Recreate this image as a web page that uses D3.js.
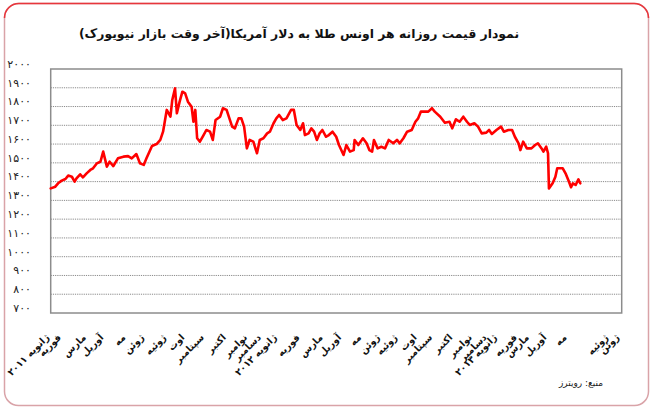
<!DOCTYPE html>
<html><head><meta charset="utf-8">
<script src="https://cdn.jsdelivr.net/npm/d3@7/dist/d3.min.js"></script>
<style>body{margin:0;background:#fff}svg{display:block}</style>
</head><body><svg id="c" width="650" height="408"></svg>
<script>
const title = "نمودار قیمت روزانه هر اونس طلا به دلار آمریکا(آخر وقت بازار نیویورک)";
const source = "منبع: رویترز";

// trading-day index and gold price (USD/oz)
const days = [0,5,8,12,16,19,23,26,28,32,35,39,43,46,50,54,57,61,64,68,73,79,84,88,93,97,101,104,110,115,119,122,126,130,132,135,137,140,143,146,149,153,155,157,159,162,166,169,173,176,179,184,187,191,197,200,204,207,210,213,216,220,224,227,231,235,238,242,245,248,252,256,261,264,267,271,274,276,280,283,286,289,292,295,299,302,306,310,313,318,321,325,329,330,334,339,343,346,349,351,355,359,363,367,372,376,379,383,387,392,396,399,402,406,410,414,417,423,428,433,436,440,444,448,452,455,460,464,468,473,476,479,484,489,492,497,501,504,508,510,513,517,522,526,529,533,535,538,540,541,545,548,550,553,556,559,562,565,567,570,573,575];
const prices = [1364,1373,1391,1405,1414,1432,1426,1400,1417,1439,1423,1444,1462,1471,1497,1506,1560,1480,1506,1483,1524,1533,1536,1524,1547,1497,1489,1524,1590,1600,1622,1666,1782,1746,1835,1897,1764,1826,1879,1870,1826,1799,1719,1782,1631,1613,1648,1675,1666,1622,1728,1746,1791,1782,1693,1684,1737,1737,1693,1577,1622,1613,1551,1622,1631,1657,1666,1711,1737,1755,1728,1737,1782,1782,1702,1675,1711,1648,1657,1684,1666,1622,1657,1675,1639,1648,1666,1639,1595,1542,1595,1560,1568,1622,1595,1631,1604,1568,1560,1622,1577,1586,1577,1622,1604,1622,1604,1631,1666,1675,1719,1737,1773,1773,1773,1791,1773,1746,1714,1719,1684,1732,1719,1746,1719,1702,1711,1693,1657,1661,1675,1654,1675,1693,1666,1675,1675,1639,1604,1568,1613,1577,1577,1595,1604,1577,1560,1586,1551,1364,1391,1426,1471,1471,1471,1444,1409,1370,1391,1382,1412,1391];

const monthLabels = ["ژانویه ۲۰۱۱","فوریه","مارس","آوریل","مه","ژوئن","ژوئیه","اوت","سپتامبر","اکتبر","نوامبر","دسامبر","ژانویه ۲۰۱۲","فوریه","مارس","آوریل","مه","ژوئن","ژوئیه","اوت","سپتامبر","اکتبر","نوامبر","دسامبر","ژانویه ۲۰۱۳","فوریه","مارس","آوریل","مه","ژوئن","ژوئیه"];
const monthPos = [-1,12,39,58,82,102,126,146,167,191,214,229,246,271,296,316,338,358,377,398,415,437,458,474,485,507,520,539,561,618,606];

const yTicks = [700,800,900,1000,1100,1200,1300,1400,1500,1600,1700,1800,1900,2000];

const fa = s => String(s).replace(/\d/g, d => "۰۱۲۳۴۵۶۷۸۹"[d]);

const svg = d3.select("#c");
const FONT = "DejaVu Sans";

// outer rounded border
svg.append("rect").attr("x",4.5).attr("y",3.5).attr("width",644).attr("height",402)
  .attr("rx",14).attr("fill","none").attr("stroke","#d9a3a8").attr("stroke-width",1.5);
svg.append("path").attr("d","M4.5,18 A14.5,14.5 0 0 1 19,3.5 L634,3.5 A14.5,14.5 0 0 1 648.5,18")
  .attr("fill","none").attr("stroke","#e8363c").attr("stroke-width",1.5);

const x = d3.scaleLinear().domain([0,620]).range([50.7,621.7]);
const y = d3.scaleLinear().domain([700,2000]).range([313,69]);

// title
svg.append("text").attr("x",299).attr("y",38).attr("text-anchor","middle")
  .attr("direction","rtl").style("unicode-bidi","embed")
  .attr("font-family",FONT).attr("font-weight","bold").attr("font-size",12.4)
  .attr("fill","#111").text(title);

// grid
const grid = svg.append("g");
grid.selectAll("line").data(yTicks.filter(v => v>700 && v<2000)).join("line")
  .attr("x1",x(0)).attr("x2",x(620)).attr("y1",d=>y(d)).attr("y2",d=>y(d))
  .attr("stroke","#8a8a8a").attr("stroke-width",1).attr("stroke-dasharray","1.2,1");

// frame
svg.append("rect").attr("x",x(0)).attr("y",y(2000)).attr("width",x(620)-x(0)).attr("height",y(700)-y(2000))
  .attr("fill","none").attr("stroke","#8c8c8c").attr("stroke-width",1.5);

// y labels
svg.append("g").selectAll("text").data(yTicks).join("text")
  .attr("x",31).attr("y",d=>y(d)-5).attr("dy","0.35em").attr("text-anchor","end")
  .attr("font-family",FONT).attr("font-size",11).attr("fill","#222").text(d=>fa(d));

// x labels
svg.append("g").selectAll("text").data(monthLabels).join("text")
  .attr("transform",(d,i)=>`translate(${x(monthPos[i])},338) rotate(-45)`)
  .attr("text-anchor","end").attr("font-family",FONT).attr("font-weight","bold")
  .attr("font-size",9.5).attr("fill","#111").text(d=>d);

// line
const pts = days.map((d,i)=>[d,prices[i]]);
svg.append("path").datum(pts)
  .attr("d",d3.line().x(d=>x(d[0])).y(d=>y(d[1])))
  .attr("fill","none").attr("stroke","#ff0000").attr("stroke-width",2.6)
  .attr("stroke-linejoin","round").attr("stroke-linecap","round");

// source
svg.append("text").attr("x",581).attr("y",386).attr("text-anchor","middle")
  .attr("direction","rtl").style("unicode-bidi","embed")
  .attr("font-family",FONT).attr("font-size",9).attr("fill","#222").text(source);
</script></body></html>
